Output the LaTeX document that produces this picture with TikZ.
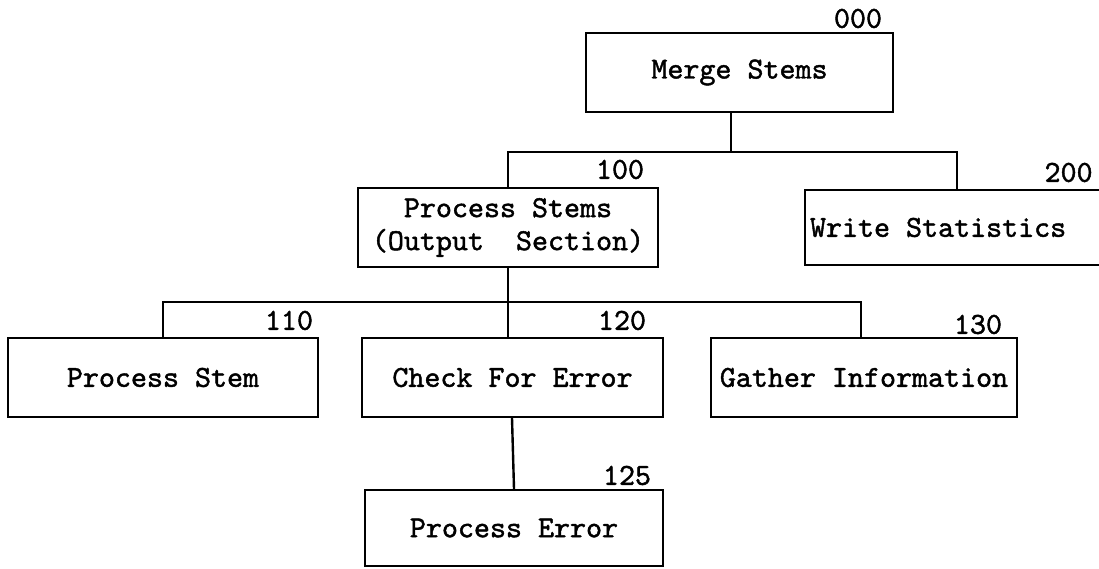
\documentclass[tikz,border=0pt]{standalone}
\usepackage{fontspec}
\newfontfamily\typewriter{lmmono10-regular.otf}[FakeBold=1.4]
\usetikzlibrary{calc}
\begin{document}
\begin{tikzpicture}[x=1pt,y=1pt,
  box/.style={draw, line width=2.4pt, rectangle, inner sep=0pt, align=center,
    font=\typewriter\fontsize{30.5}{33}\selectfont},
  num/.style={font=\typewriter\fontsize{30.5}{33}\selectfont, inner sep=0pt, anchor=base east},
  link/.style={line width=2.4pt}]
\useasboundingbox (0,0) rectangle (1099,568);
\clip (0,0) rectangle (1099,568);
\fill[white] (0,0) rectangle (1099,568);

% module boxes (y measured upward from the page bottom)
\node[box, minimum width=307, minimum height=79] (merge) at (739.5,495.5) {Merge Stems};
\node[box, minimum width=300, minimum height=79] (ps) at (508,340.5) {Process Stems\\(Output\ \ Section)};
\node[box, minimum width=300, minimum height=75] (ws) at (955,340.5) {\makebox[290pt][l]{Write Statistics}};
\node[box, minimum width=310, minimum height=79] (pstem) at (163,190.5) {Process Stem};
\node[box, minimum width=301, minimum height=79] (cfe) at (512.5,190.5) {Check For Error};
\node[box, minimum width=306, minimum height=79] (gi) at (864,190.5) {Gather Information};
\node[box, minimum width=298, minimum height=76] (pe) at (514,40) {Process Error};

% module numbers
\node[num] (n000) at ([shift={(-12,4)}]merge.north east) {000};
\node[num] (n100) at ([shift={(-15,8)}]ps.north east) {100};
\node[num] (n200) at ([shift={(289,7)}]ws.north west) {200};
\node[num] (n110) at ([shift={(-6,7)}]pstem.north east) {110};
\node[num] (n120) at ([shift={(-18,7)}]cfe.north east) {120};
\node[num] (n130) at ([shift={(-16,3)}]gi.north east) {130};
\node[num] (n125) at ([shift={(-13,4)}]pe.north east) {125};

% connectors
\coordinate (b1) at (731,416);
\coordinate (b2) at (508,266);
\draw[link] (merge.south -| b1) -- (b1);
\draw[link] (ps.north) |- (b1) -| ([xshift=2pt]ws.north);
\draw[link] (ps.south) -- (b2);
\draw[link] (pstem.north) |- (b2) -| ([xshift=-3pt]gi.north);
\draw[link] (b2) -- (cfe.north -| b2);
\draw[link] ([xshift=-0.5pt]cfe.south) -- (pe.north);
\end{tikzpicture}
\end{document}
